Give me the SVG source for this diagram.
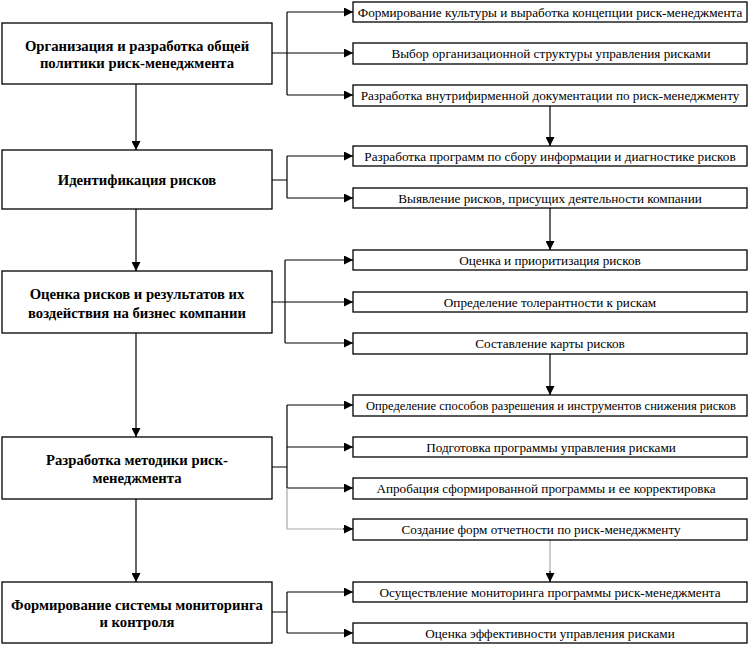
<svg xmlns="http://www.w3.org/2000/svg" width="750" height="647" viewBox="0 0 750 647">
<style>
.box{fill:#fff;stroke:#000;stroke-width:1.3}
.lt{font-family:"Liberation Serif","Times New Roman",serif;font-size:14.7px;font-weight:bold;text-anchor:middle;fill:#000}
.rt{font-family:"Liberation Serif","Times New Roman",serif;font-size:13.2px;text-anchor:middle;fill:#000}
.ln{fill:none;stroke:#000;stroke-width:1.2}
.gr{fill:none;stroke:#aaa;stroke-width:1.2}
</style>
<defs>
<marker id="ah" viewBox="0 0 10 10" refX="10" refY="5" markerWidth="10" markerHeight="9" markerUnits="userSpaceOnUse" orient="auto">
<path d="M0,0 L10,5 L0,10 Z" fill="#000"/>
</marker>
</defs>
<rect width="750" height="647" fill="#fff"/>
<g id="connectors">
<path class="ln" d="M136,84 V150" marker-end="url(#ah)"/>
<path class="ln" d="M136,209 V271" marker-end="url(#ah)"/>
<path class="ln" d="M136,333 V437" marker-end="url(#ah)"/>
<path class="ln" d="M136,499 V582" marker-end="url(#ah)"/>
<path class="ln" d="M550,106 V146" marker-end="url(#ah)"/>
<path class="ln" d="M550,208 V250" marker-end="url(#ah)"/>
<path class="ln" d="M550,354 V395" marker-end="url(#ah)"/>
<path class="gr" d="M550,540 V572"/>
<path class="ln" d="M550,571 V582" marker-end="url(#ah)"/>
<path class="ln" d="M272,53 H287 M287,12 V95"/>
<path class="ln" d="M287,12 H353" marker-end="url(#ah)"/>
<path class="ln" d="M287,53 H353" marker-end="url(#ah)"/>
<path class="ln" d="M287,95 H353" marker-end="url(#ah)"/>
<path class="ln" d="M272,180 H287 M287,156 V198"/>
<path class="ln" d="M287,156 H353" marker-end="url(#ah)"/>
<path class="ln" d="M287,198 H353" marker-end="url(#ah)"/>
<path class="ln" d="M272,302 H285 M285,260 V343"/>
<path class="ln" d="M285,260 H353" marker-end="url(#ah)"/>
<path class="ln" d="M285,302 H353" marker-end="url(#ah)"/>
<path class="ln" d="M285,343 H353" marker-end="url(#ah)"/>
<path class="ln" d="M272,467 H287 M287,405 V488"/>
<path class="ln" d="M287,405 H353" marker-end="url(#ah)"/>
<path class="ln" d="M287,447 H353" marker-end="url(#ah)"/>
<path class="ln" d="M287,488 H353" marker-end="url(#ah)"/>
<path class="gr" d="M287,488 V529 H344"/>
<path class="ln" d="M343,529 H353" marker-end="url(#ah)"/>
<path class="ln" d="M272,612 H287 M287,592 V633"/>
<path class="ln" d="M287,592 H353" marker-end="url(#ah)"/>
<path class="ln" d="M287,633 H353" marker-end="url(#ah)"/>
</g>
<g id="n1"><rect class="box" x="2" y="23" width="270" height="61"/><text class="lt" x="137" y="51">Организация и разработка общей</text><text class="lt" x="137" y="68">политики риск-менеджмента</text></g>
<g id="n2"><rect class="box" x="2" y="150" width="270" height="59"/><text class="lt" x="137" y="185">Идентификация рисков</text></g>
<g id="n3"><rect class="box" x="2" y="271" width="270" height="62"/><text class="lt" x="137" y="299">Оценка рисков и результатов их</text><text class="lt" x="137" y="318">воздействия на бизнес компании</text></g>
<g id="n4"><rect class="box" x="2" y="437" width="270" height="62"/><text class="lt" x="137" y="465">Разработка методики риск-</text><text class="lt" x="137" y="483">менеджмента</text></g>
<g id="n5"><rect class="box" x="2" y="582" width="270" height="61"/><text class="lt" x="137" y="610">Формирование системы мониторинга</text><text class="lt" x="137" y="627">и контроля</text></g>
<g id="r1"><rect class="box" x="353" y="2" width="394" height="20"/><text class="rt" x="550" y="16.5">Формирование культуры и выработка концепции риск-менеджмента</text></g>
<g id="r2"><rect class="box" x="353" y="43" width="394" height="21"/><text class="rt" x="551" y="58">Выбор организационной структуры управления рисками</text></g>
<g id="r3"><rect class="box" x="353" y="85" width="394" height="21"/><text class="rt" x="550" y="100">Разработка внутрифирменной документации по риск-менеджменту</text></g>
<g id="r4"><rect class="box" x="353" y="146" width="394" height="20"/><text class="rt" x="550" y="160.5">Разработка программ по сбору информации и диагностике рисков</text></g>
<g id="r5"><rect class="box" x="353" y="188" width="394" height="20"/><text class="rt" x="550" y="202.5">Выявление рисков, присущих деятельности компании</text></g>
<g id="r6"><rect class="box" x="353" y="250" width="394" height="20"/><text class="rt" x="550" y="264.5">Оценка и приоритизация рисков</text></g>
<g id="r7"><rect class="box" x="353" y="292" width="394" height="20"/><text class="rt" x="550" y="306.5">Определение толерантности к рискам</text></g>
<g id="r8"><rect class="box" x="353" y="333" width="394" height="21"/><text class="rt" x="550" y="348">Составление карты рисков</text></g>
<g id="r9"><rect class="box" x="353" y="395" width="394" height="21"/><text class="rt" x="551" y="410" style="font-size:12.5px">Определение способов разрешения и инструментов снижения рисков</text></g>
<g id="r10"><rect class="box" x="353" y="437" width="394" height="20"/><text class="rt" x="551" y="451.5">Подготовка программы управления рисками</text></g>
<g id="r11"><rect class="box" x="353" y="478" width="394" height="21"/><text class="rt" x="546" y="493">Апробация сформированной программы и ее корректировка</text></g>
<g id="r12"><rect class="box" x="353" y="519" width="394" height="21"/><text class="rt" x="541" y="534">Создание форм отчетности по риск-менеджменту</text></g>
<g id="r13"><rect class="box" x="353" y="582" width="394" height="20"/><text class="rt" x="550" y="596.5">Осуществление мониторинга программы риск-менеджмента</text></g>
<g id="r14"><rect class="box" x="353" y="623" width="394" height="20"/><text class="rt" x="550" y="637.5">Оценка эффективности управления рисками</text></g>
</svg>
